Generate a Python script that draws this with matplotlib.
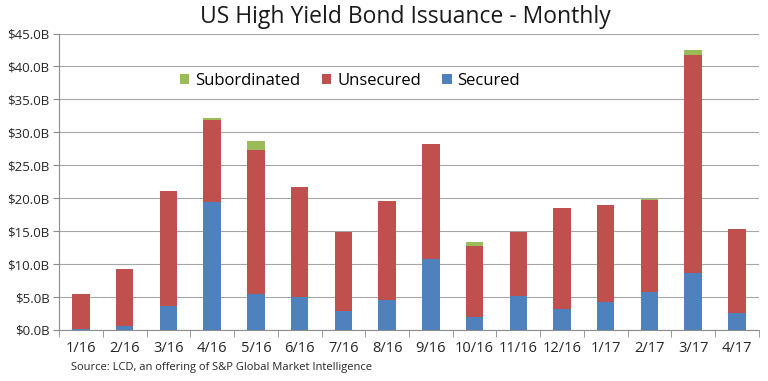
import numpy as np
import matplotlib.pyplot as plt
from matplotlib.ticker import FuncFormatter, FixedLocator

# Datos (miles de millones USD)
meses = ['1/16', '2/16', '3/16', '4/16', '5/16', '6/16', '7/16', '8/16',
         '9/16', '10/16', '11/16', '12/16', '1/17', '2/17', '3/17', '4/17']
secured = [0.2, 0.65, 3.65, 19.45, 5.5, 5.0, 2.9, 4.55,
           10.75, 1.9, 5.2, 3.2, 4.2, 5.7, 8.6, 2.5]
unsecured = [5.2, 8.65, 17.45, 12.35, 21.75, 16.7, 12.0, 14.95,
             17.45, 10.9, 9.7, 15.3, 14.8, 14.05, 33.1, 12.8]
subordinated = [0.0, 0.0, 0.0, 0.4, 1.45, 0.0, 0.0, 0.0,
                0.0, 0.6, 0.0, 0.0, 0.0, 0.2, 0.85, 0.0]

plt.rcParams['font.family'] = ['Open Sans', 'DejaVu Sans']

fig = plt.figure(figsize=(7.68, 3.81), dpi=100)
ax = fig.add_axes([0.077, 0.134, 0.911, 0.778])

x = np.arange(len(meses))
ancho = 0.4
sec = np.array(secured)
uns = np.array(unsecured)
sub = np.array(subordinated)

ax.bar(x, sec, ancho, color='#4F81BD', label='Secured', zorder=3)
ax.bar(x, uns, ancho, bottom=sec, color='#C0504D', label='Unsecured', zorder=3)
ax.bar(x, sub, ancho, bottom=sec + uns, color='#9BBB59', label='Subordinated', zorder=3)

ax.set_xlim(-0.5, len(meses) - 0.5)
ax.set_ylim(0, 45)
ax.set_yticks(np.arange(0, 46, 5))
ax.yaxis.set_major_formatter(FuncFormatter(lambda v, p: f'${v:.1f}B'))
ax.grid(axis='y', color='#A6A6A6', linewidth=0.8, zorder=0)

ax.set_xticks(x)
ax.set_xticklabels(meses)
ax.xaxis.set_minor_locator(FixedLocator(np.arange(-0.5, len(meses), 1)))
ax.tick_params(axis='x', which='major', length=0, pad=8, labelsize=10.5, colors='#262626')
ax.tick_params(axis='x', which='minor', length=5, color='#8C8C8C', direction='out')
ax.tick_params(axis='y', length=4, color='#8C8C8C', labelsize=9.5, labelcolor='#262626', pad=3)

for lado in ['top', 'right']:
    ax.spines[lado].set_visible(False)
ax.spines['left'].set_color('#8C8C8C')
ax.spines['bottom'].set_color('#8C8C8C')

fig.text(0.528, 0.955, 'US High Yield Bond Issuance - Monthly', ha='center', va='center',
         fontsize=16.5, color='#1a1a1a')

handles, labels = ax.get_legend_handles_labels()
ax.legend(handles[::-1], labels[::-1], loc='center', bbox_to_anchor=(0.416, 0.84), ncol=3,
          frameon=False, fontsize=12, handlelength=0.55, handleheight=0.55,
          handletextpad=0.35, columnspacing=1.3)

fig.text(0.092, 0.035, 'Source: LCD, an offering of S&P Global Market Intelligence',
         ha='left', va='center', fontsize=8, color='#262626')

fig.savefig('out.png', dpi=100)
